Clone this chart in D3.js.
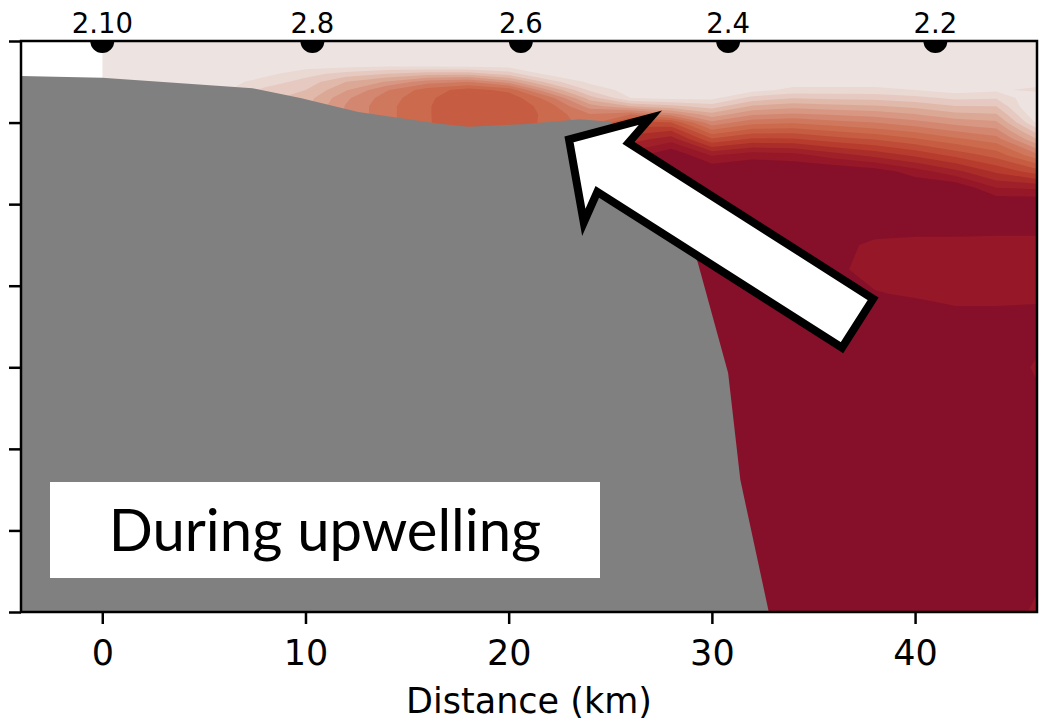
<!DOCTYPE html>
<html>
<head>
<meta charset="utf-8">
<script src="https://cdn.jsdelivr.net/npm/d3@7"></script>
<style>
  html, body { margin: 0; padding: 0; background: #ffffff; }
  svg { display: block; }
</style>
</head>
<body>
<svg id="chart" width="1045" height="721"></svg>
<script>
// ---------------- DATA ----------------
// Grid columns (distance along section, km)
const distanceKm = [0, 2, 4, 6, 8, 10, 12, 14, 16, 18, 20, 22, 24, 26, 28, 30, 32, 34, 36, 38, 40, 42, 44, 46];
// Grid rows (depth, m)
const depthM = [0, 3, 4, 5, 6, 7, 8, 9, 10, 11, 12, 14, 16, 18, 20, 22, 25, 28, 31, 34, 40, 50, 60, 70];
// Contour level index at each grid node, one profile per distance column (values at depthM)
const levelProfiles = [
  [0,0,0,0,0,0,0,0,0,0,0,0,0,0,0,0,0,0,0,0,0,0,0,0],                                   // 0 km
  [0,0,0,0,0,0,0,0,0,0,0,0,0,0,0,0,0,0,0,0,0,0,0,0],                                   // 2
  [0,0,0,0,0,0,0,0,0,0,0,0,0,0,0,0,0,0,0,0,0,0,0,0],                                   // 4
  [0,0,0,0.1,0.3,0.4,0.4,0.4,0.4,0.4,0.4,0.4,0.4,0.4,0.4,0.4,0.4,0.4,0.4,0.4,0.4,0.4,0.4,0.4], // 6
  [0,0,0.2,0.9,1.8,2.2,2.2,2.2,2.2,2.2,2.2,2.2,2.2,2.2,2.2,2.2,2.2,2.2,2.2,2.2,2.2,2.2,2.2,2.2], // 8
  [0,0,1.1,1.9,2.5,3.0,3.3,3.4,3.4,3.4,3.4,3.4,3.4,3.4,3.4,3.4,3.4,3.4,3.4,3.4,3.4,3.4,3.4,3.4], // 10
  [0,0,1.9,3.5,4.4,5.3,5.6,5.6,5.6,5.6,5.6,5.6,5.6,5.6,5.6,5.6,5.6,5.6,5.6,5.6,5.6,5.6,5.6,5.6], // 12
  [0,0.2,2.5,4.6,6.4,7.0,7.2,7.2,7.2,7.2,7.2,7.2,7.2,7.2,7.2,7.2,7.2,7.2,7.2,7.2,7.2,7.2,7.2,7.2], // 14
  [0,0.1,3.0,6.0,8.0,8.3,8.4,8.4,8.4,8.4,8.4,8.4,8.4,8.4,8.4,8.4,8.4,8.4,8.4,8.4,8.4,8.4,8.4,8.4], // 16
  [0,0,3.0,6.5,8.9,9.3,9.4,9.4,9.3,9.2,9.2,9.2,9.2,9.2,9.2,9.2,9.2,9.2,9.2,9.2,9.2,9.2,9.2,9.2], // 18
  [0,0,2.0,5.0,8.2,9.2,9.3,9.3,9.2,9.1,9.1,9.1,9.1,9.1,9.1,9.1,9.1,9.1,9.1,9.1,9.1,9.1,9.1,9.1], // 20
  [0,0,0.1,2.0,4.5,7.0,8.0,8.2,8.2,8.2,8.2,8.2,8.2,8.2,8.2,8.2,8.2,8.2,8.2,8.2,8.2,8.2,8.2,8.2], // 22
  [0,0,0,0.2,1.3,3.0,5.0,6.6,7.0,7.0,7.0,7.0,7.0,7.0,7.0,7.0,7.0,7.0,7.0,7.0,7.0,7.0,7.0,7.0],  // 24
  [0,0,0,0,0,0.5,3.5,7.5,10,11,12,14,15.5,15.5,15.5,15.5,15.5,15.5,15.5,15.5,15.5,15.5,15.5,15.5], // 26
  [0,0,0,0,0,0.2,2.8,6.0,9.5,11.5,13,15.5,15.5,15.5,15.5,15.5,15.5,15.5,15.5,15.5,15.5,15.5,15.5,15.5], // 28
  [0,0,0,0,0,0.2,2.0,3.9,5.8,7.7,9.6,13.4,15.5,15.5,15.5,15.5,15.5,15.5,15.5,15.5,15.5,15.5,15.5,15.5], // 30
  [0,0,0,0,0.1,1.9,3.65,5.4,7.15,8.9,10.65,14.15,15.5,15.5,15.5,15.5,15.5,15.5,15.5,15.5,15.5,15.5,15.5,15.5], // 32
  [0,0,0,0,0.8,2.46,4.1,5.7,7.35,9.0,10.6,13.9,15.5,15.5,15.5,15.5,15.5,15.5,15.5,15.5,15.5,15.5,15.5,15.5], // 34
  [0,0,0,0,0.8,2.3,3.85,5.4,6.9,8.4,9.9,13.0,15.5,15.5,15.5,15.5,15.0,14.8,15.5,15.5,15.5,15.5,15.5,15.5], // 36
  [0,0,0,0,0.8,2.2,3.65,5.1,6.5,7.9,9.4,12.2,15.1,15.5,15.5,15.5,14.2,14.0,14.6,15.5,15.5,15.5,15.5,15.5], // 38
  [0,0,0,0,0.5,1.85,3.2,4.55,5.9,7.25,8.6,11.3,14.0,15.5,15.5,15.5,14.0,13.8,14.3,15.5,15.5,15.5,15.5,15.5], // 40
  [0,0,0,0,0,1.27,2.55,3.8,5.1,6.4,7.7,10.2,12.8,15.4,15.5,15.5,14.0,13.8,14.0,15.0,15.5,15.5,15.5,15.5], // 42
  [0,0,0,0,0.3,1.4,2.5,3.6,4.7,5.8,6.9,9.1,11.3,13.5,15.5,15.5,13.9,13.8,14.0,15.0,15.5,15.5,15.5,15.5], // 44
  [0,0,0,0,0.8,-0.5,-1,-0.5,0.3,2.0,3.5,6.8,10,13.3,15.5,15.5,13.9,13.8,14.0,15.2,14.3,15.5,15.5,14.2] // 46
];
// Contour thresholds and band colours (lightest to darkest)
const levelThresholds = [0.5,1.5,2.5,3.5,4.5,5.5,6.5,7.5,8.5,9.5,10.5,11.5,12.5,13.5,14.5];
const levelColors = ["#ede3e1","#ead8d3","#e6cac1","#e1b9ab","#dca896","#d89783","#d38770","#cf785e",
                     "#cb6a4d","#c65c41","#bf4c36","#b73c2e","#ab2d2a","#9f2029","#951728","#861029"];
// Bathymetry (km, depth m)
const bathyKm    = [-4, 0, 7.4, 9.75, 12.6, 16.5, 18.0, 20.7, 23.5, 25.0, 27.0, 29.3, 30.8, 31.4, 32.8];
const bathyDepth = [4.3, 4.5, 5.8, 7.0, 8.7, 10.1, 10.5, 10.2, 9.6, 9.9, 14.5, 27.1, 40.7, 53.8, 70];
// Stations
const stationKm     = [0, 10.34, 20.6, 30.8, 41.0];
const stationLabels = ["2.10", "2.8", "2.6", "2.4", "2.2"];
// Axis ticks
const xTicks = [0, 10, 20, 30, 40];
const yTicks = [0, 10, 20, 30, 40, 50, 60, 70];
// Annotation
const annotationText = "During upwelling";
const arrowTail = [37.17, 34.6];   // km, m
const arrowTip  = [22.97, 12.06];  // km, m

// ---------------- CHART ----------------
const svg = d3.select("#chart");
const x = d3.scaleLinear().domain([-4, 46]).range([21, 1037]);
const y = d3.scaleLinear().domain([0, 70]).range([41, 612]);

const defs = svg.append("defs");
defs.append("clipPath").attr("id", "plotClip").append("rect")
  .attr("x", x(-4)).attr("y", y(0)).attr("width", x(46) - x(-4)).attr("height", y(70) - y(0));
defs.append("clipPath").attr("id", "dataClip").append("rect")
  .attr("x", x(0)).attr("y", y(0)).attr("width", x(46) - x(0)).attr("height", y(70) - y(0));

// Field grid
const nx = distanceKm.length, ny = depthM.length;
const values = new Array(nx * ny);
for (let j = 0; j < ny; j++) for (let i = 0; i < nx; i++) values[j * nx + i] = levelProfiles[i][j];

const gx = d3.scaleLinear().domain(distanceKm.map((d, i) => i + 0.5)).range(distanceKm);
const gy = d3.scaleLinear().domain(depthM.map((d, i) => i + 0.5)).range(depthM);
const proj = d3.geoTransform({ point(px, py) { this.stream.point(x(gx(px)), y(gy(py))); } });
const path = d3.geoPath(proj);
const bands = d3.contours().size([nx, ny]).thresholds(levelThresholds)(values);

const gField = svg.append("g").attr("clip-path", "url(#dataClip)");
gField.append("rect")
  .attr("x", x(0)).attr("y", y(0)).attr("width", x(46) - x(0)).attr("height", y(70) - y(0))
  .attr("fill", levelColors[0]);
gField.selectAll("path.band").data(bands).join("path")
  .attr("class", "band")
  .attr("d", path)
  .attr("fill", (d, i) => levelColors[i + 1]);

// Bathymetry
const gPlot = svg.append("g").attr("clip-path", "url(#plotClip)");
const bathy = bathyKm.map((k, i) => [k, bathyDepth[i]]);
gPlot.append("path")
  .datum(bathy)
  .attr("d", d3.area().x(d => x(d[0])).y0(y(70)).y1(d => y(d[1])))
  .attr("fill", "#808080");

// Station markers (half circles on the top spine)
gPlot.selectAll("circle.station").data(stationKm).join("circle")
  .attr("class", "station")
  .attr("cx", d => x(d)).attr("cy", y(0)).attr("r", 12)
  .attr("fill", "#000");

// Text box
svg.append("rect").attr("x", 50).attr("y", 482).attr("width", 550).attr("height", 96).attr("fill", "#ffffff");
svg.append("text")
  .attr("x", 325).attr("y", 551)
  .attr("text-anchor", "middle")
  .attr("font-family", "Lato, 'Open Sans', sans-serif")
  .attr("font-size", 58)
  .attr("fill", "#000")
  .text(annotationText);

// Arrow
(function () {
  const p0 = [x(arrowTail[0]), y(arrowTail[1])];
  const p1 = [x(arrowTip[0]), y(arrowTip[1])];
  const dx = p1[0] - p0[0], dy = p1[1] - p0[1];
  const L = Math.hypot(dx, dy);
  const u = [dx / L, dy / L], n = [-u[1], u[0]];
  const shaftHalf = 29, headHalf = 62, notchBack = 52, barbBack = 57;
  const at = (a, w) => [p0[0] + u[0] * a + n[0] * w, p0[1] + u[1] * a + n[1] * w];
  const pts = [at(0, shaftHalf), at(L - notchBack, shaftHalf), at(L - barbBack, headHalf), p1,
               at(L - barbBack, -headHalf), at(L - notchBack, -shaftHalf), at(0, -shaftHalf)];
  svg.append("path")
    .attr("d", d3.line()(pts) + "Z")
    .attr("fill", "#ffffff")
    .attr("stroke", "#000")
    .attr("stroke-width", 8)
    .attr("stroke-linejoin", "miter")
    .attr("stroke-miterlimit", 10);
})();

// Axes
const axisFont = "'DejaVu Sans', sans-serif";
const xAxis = svg.append("g").attr("transform", `translate(0,${y(70)})`)
  .call(d3.axisBottom(x).tickValues(xTicks).tickSize(12).tickSizeOuter(0).tickPadding(16).tickFormat(d3.format("d")));
xAxis.select(".domain").remove();
xAxis.selectAll("line").attr("stroke", "#000").attr("stroke-width", 2.5);
xAxis.selectAll("text").attr("font-family", axisFont).attr("font-size", 35).attr("fill", "#000");

const yAxis = svg.append("g").attr("transform", `translate(${x(-4)},0)`)
  .call(d3.axisLeft(y).tickValues(yTicks).tickSize(12).tickSizeOuter(0).tickFormat(""));
yAxis.select(".domain").remove();
yAxis.selectAll("line").attr("stroke", "#000").attr("stroke-width", 2.5);

// Frame
svg.append("rect")
  .attr("x", x(-4)).attr("y", y(0)).attr("width", x(46) - x(-4)).attr("height", y(70) - y(0))
  .attr("fill", "none").attr("stroke", "#000").attr("stroke-width", 2.5);

// Station labels
svg.selectAll("text.stlabel").data(stationKm).join("text")
  .attr("class", "stlabel")
  .attr("x", d => x(d)).attr("y", 33)
  .attr("text-anchor", "middle")
  .attr("font-family", axisFont).attr("font-size", 27.5).attr("fill", "#000")
  .text((d, i) => stationLabels[i]);

// Axis title
svg.append("text")
  .attr("x", (x(-4) + x(46)) / 2).attr("y", 713)
  .attr("text-anchor", "middle")
  .attr("font-family", axisFont).attr("font-size", 35).attr("fill", "#000")
  .text("Distance (km)");
</script>
</body>
</html>
